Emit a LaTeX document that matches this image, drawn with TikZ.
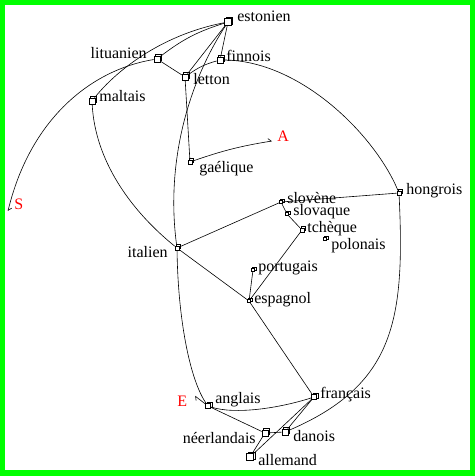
\documentclass[tikz,border=0pt]{standalone}
\usepackage{fontspec}
\setmainfont{Liberation Serif}
\usetikzlibrary{shadows,arrows.meta}

\begin{document}
\begin{tikzpicture}[x=1bp,y=-1bp,line width=0.6bp,
		cube/.style={draw, fill=white, inner sep=0pt, minimum size=#1,
			copy shadow={shadow xshift=1.3bp, shadow yshift=1.3bp}},
		cube/.default=4bp,
		lab/.style={anchor=base west, inner sep=0pt, font=\fontsize{16bp}{19bp}\selectfont},
		labl/.style={lab, anchor=base east},
		redlab/.style={lab, text=red},
		tip/.style={-{Straight Barb[harpoon,length=3bp,width=6bp]}}]
		% frame
		\fill[green] (0,0) rectangle (475,476);
		\fill[white] (5,5) rectangle (470,470);
		\useasboundingbox (0,0) rectangle (475,476);
		% languages
		\node[cube=6.5bp] (est) at (228,22) {};
		\node[cube=6bp] (lit) at (157,59) {};
		\node[cube=6bp] (fin) at (220,60) {};
		\node[cube=6bp] (let) at (185,77) {};
		\node[cube=6bp] (mal) at (92,101) {};
		\node[cube] (gae) at (190,162) {};
		\node[cube] (hon) at (399,193) {};
		\node[cube=3.5bp] (slo) at (281,202) {};
		\node[cube=3.5bp] (slk) at (287,214) {};
		\node[cube] (tch) at (302,230) {};
		\node[cube=3.5bp] (pol) at (325,239) {};
		\node[cube] (ita) at (177,248) {};
		\node[cube=3.5bp] (por) at (253,270) {};
		\node[cube=3.5bp] (esp) at (249,301) {};
		\node[cube=5bp] (fra) at (314,397) {};
		\node[cube=5bp] (ang) at (208,406) {};
		\node[cube=6bp] (nee) at (265,433) {};
		\node[cube=6bp] (dan) at (285,432) {};
		\node[cube=7bp] (all) at (250,457) {};
		\coordinate (sEnd) at (8,211);
		\coordinate (aEnd) at (272,141);
		\coordinate (eEnd) at (195,396);
		% names
		\node[lab] (estL) at (237,22) {estonien};
		\node[labl] (litL) at (147,59) {lituanien};
		\node[lab] (finL) at (226,62) {finnois};
		\node[lab] (letL) at (193,85) {letton};
		\node[lab] (malL) at (99,102) {maltais};
		\node[lab] (gaeL) at (199,173) {gaélique};
		\node[lab] (honL) at (406,195) {hongrois};
		\node[lab] (sloL) at (287,204) {slovène};
		\node[lab] (slkL) at (293,216) {slovaque};
		\node[lab] (tchL) at (307,233) {tchèque};
		\node[lab] (polL) at (331,249) {polonais};
		\node[labl] (itaL) at (168,257) {italien};
		\node[lab] (porL) at (258,271) {portugais};
		\node[lab] (espL) at (254,303) {espagnol};
		\node[lab] (fraL) at (320,398) {français};
		\node[lab] (angL) at (215,403) {anglais};
		\node[labl] (neeL) at (256,443) {néerlandais};
		\node[lab] (danL) at (293,441) {danois};
		\node[lab] (allL) at (258,465) {allemand};
		\node[redlab] (sL) at (14,210) {S};
		\node[redlab] (aL) at (277,142) {A};
		\node[redlab] (eL) at (177,406) {E};
		% links
		\draw[tip] (lit) .. controls (90,70) and (30,120) .. (sEnd);
		\draw (mal) .. controls (115,72) and (160,35) .. (est);
		\draw (lit) to[bend left=10] (est);
		\draw (lit) -- (let);
		\draw (est) -- (fin);
		\draw (est) -- (let);
		\draw (est) .. controls (190,80) and (165,160) .. (ita);
		\draw (let) -- (gae);
		\draw (let) to[bend left=10] (fin);
		\draw[tip] (gae) to[bend left=5] (aEnd);
		\draw (fin) .. controls (300,60) and (375,135) .. (hon);
		\draw (hon) .. controls (405,320) and (395,385) .. (dan);
		\draw (hon) -- (slo);
		\draw (ita) -- (slo);
		\draw (slo) -- (slk);
		\draw (slk) -- (tch);
		\draw (tch) -- (esp);
		\draw (por) -- (esp);
		\draw (ita) -- (esp);
		\draw (esp) -- (fra);
		\draw (mal) .. controls (95,160) and (130,210) .. (ita);
		\draw (ita) .. controls (178,320) and (190,380) .. (ang);
		\draw (ang) .. controls (235,415) and (280,408) .. (fra);
		\draw[tip] (ang) -- (eEnd);
		\draw (ang) -- (nee);
		\draw (nee) -- (dan);
		\draw (nee) -- (all);
		\draw (dan) -- (fra);
		\draw (all) -- (fra);
	\end{tikzpicture}
\end{document}
